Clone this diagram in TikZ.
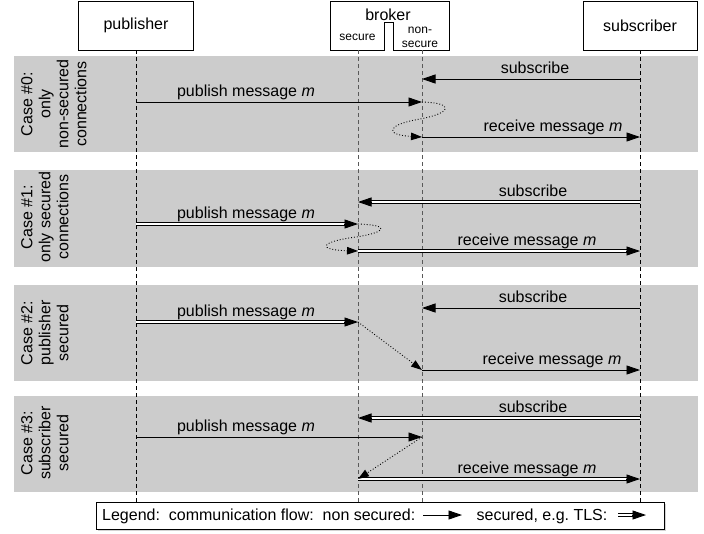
\documentclass[tikz,border=0pt]{standalone}
\usepackage{fontspec}
\setmainfont{Liberation Sans}
\usetikzlibrary{arrows.meta,shadows,calc}
\newcommand\secmsg[2]{%
  \draw[sline] (#1) -- (#2);
  \draw[msg] ($(#2)!14pt!(#1)$) -- (#2);}
\begin{document}
\begin{tikzpicture}[x=1pt,y=-1pt,
  band/.style={fill=black!20, draw=none},
  actor/.style={draw, line width=0.8pt, minimum width=115pt, minimum height=48.5pt, font=\fontsize{16}{18}\selectfont, inner sep=0},
  life/.style={dash pattern=on 4pt off 3pt, line width=0.7pt},
  blife/.style={life, draw=black!65},
  msg/.style={line width=0.9pt, -{Triangle[length=13.5pt,width=9pt]}},
  sline/.style={line width=0.8pt, double, double distance=2pt, shorten >=12.5pt},
  flow/.style={dotted, line width=0.9pt, -{Triangle[length=11pt,width=7.5pt]}},
  lbl/.style={font=\fontsize{16}{18}\selectfont, anchor=base, inner sep=0},
  small/.style={font=\fontsize{12}{14}\selectfont, anchor=base, inner sep=0},
  case/.style={font=\fontsize{16}{18}\selectfont, rotate=90, anchor=north, align=center, inner sep=0},
]
\useasboundingbox (0,0) rectangle (704,533);

% bands
\fill[band] (14,56) rectangle (698,152);
\fill[band] (14,170) rectangle (698,267);
\fill[band] (14,285) rectangle (698,381);
\fill[band] (14,396) rectangle (698,492);

% case labels
\node[case] (case0) at (21,104) {Case \#0:\\only\\non-secured\\connections};
\node[case] (case1) at (21,217) {Case \#1:\\only secured\\connections};
\node[case] (case2) at (21,333) {Case \#2:\\publisher\\secured};
\node[case] (case3) at (21,443) {Case \#3:\\subscriber\\secured};

% actors
\node[actor] (pub) at (136,25.75) {publisher};
\node[actor, minimum width=114pt] (sub) at (640,25.75) {subscriber};
\draw[line width=0.8pt] (330,1.5) -- (449,1.5) -- (449,50) -- (393,50) -- (393,22) -- (384,22) -- (384,50) -- (330,50) -- cycle;
\node[lbl] (brk) at (388,20) {broker};
\node[small] (bsec) at (357.5,40) {secure};
\node[small] (bnon1) at (420,33) {non-};
\node[small] (bnon2) at (420,47) {secure};
\coordinate (bs) at (358,50);
\coordinate (bn) at (422,50);

% lifelines
\coordinate (pubE) at (136,502);
\coordinate (subE) at (640,502);
\coordinate (bsE) at (358,502);
\coordinate (bnE) at (422,502);
\draw[life] (pub.south) -- (pubE);
\draw[life] (sub.south) -- (subE);
\draw[blife] (bs) -- (bsE);
\draw[blife] (bn) -- (bnE);

% ---- case 0
\coordinate (a0s1) at (640,79);  \coordinate (a0s2) at (422,79);
\coordinate (a0p1) at (136,102); \coordinate (a0p2) at (422,102);
\coordinate (a0r1) at (422,137); \coordinate (a0r2) at (640,137);
\draw[msg] (a0s1) -- (a0s2);
\draw[msg] (a0p1) -- (a0p2);
\draw[msg] (a0r1) -- (a0r2);
\draw[flow] (a0p2) .. controls (455,103) and (452,113) .. (420,119) .. controls (385,125) and (385,135) .. (a0r1);
\node[lbl] (l0s) at (535,73) {subscribe};
\node[lbl] (l0p) at (246,96) {publish message \textit{m}};
\node[lbl] (l0r) at (553,131) {receive message \textit{m}};

% ---- case 1
\coordinate (a1s1) at (640,202); \coordinate (a1s2) at (358,202);
\coordinate (a1p1) at (136,224); \coordinate (a1p2) at (358,224);
\coordinate (a1r1) at (358,251); \coordinate (a1r2) at (640,251);
\secmsg{a1s1}{a1s2}
\secmsg{a1p1}{a1p2}
\secmsg{a1r1}{a1r2}
\draw[flow] (a1p2) .. controls (390,225) and (388,232) .. (356,237) .. controls (318,242) and (318,250) .. (a1r1);
\node[lbl] (l1s) at (533,196) {subscribe};
\node[lbl] (l1p) at (246,218) {publish message \textit{m}};
\node[lbl] (l1r) at (527,245) {receive message \textit{m}};

% ---- case 2
\coordinate (a2s1) at (640,308); \coordinate (a2s2) at (422,308);
\coordinate (a2p1) at (136,322); \coordinate (a2p2) at (358,322);
\coordinate (a2r1) at (422,370); \coordinate (a2r2) at (640,370);
\draw[msg] (a2s1) -- (a2s2);
\secmsg{a2p1}{a2p2}
\draw[msg] (a2r1) -- (a2r2);
\draw[flow] (a2p2) -- (a2r1);
\node[lbl] (l2s) at (533,302) {subscribe};
\node[lbl] (l2p) at (246,316) {publish message \textit{m}};
\node[lbl] (l2r) at (552,364) {receive message \textit{m}};

% ---- case 3
\coordinate (a3s1) at (640,418); \coordinate (a3s2) at (358,418);
\coordinate (a3p1) at (136,437); \coordinate (a3p2) at (422,437);
\coordinate (a3r1) at (358,479); \coordinate (a3r2) at (640,479);
\secmsg{a3s1}{a3s2}
\draw[msg] (a3p1) -- (a3p2);
\secmsg{a3r1}{a3r2}
\draw[flow] (a3p2) -- (a3r1);
\node[lbl] (l3s) at (533,412) {subscribe};
\node[lbl] (l3p) at (246,431) {publish message \textit{m}};
\node[lbl] (l3r) at (527,473) {receive message \textit{m}};

% ---- legend
\node[draw, line width=0.7pt, fill=white, drop shadow={shadow xshift=1.5pt, shadow yshift=-1.5pt, opacity=0.35},
      minimum width=568pt, minimum height=27pt, inner sep=0] (legend) at (380,515.5) {};
\node[lbl, anchor=base west] (leg1) at (102,520) {Legend:\ \ communication flow:\ \ non secured:};
\coordinate (lg1a) at (423,515); \coordinate (lg1b) at (462,515);
\draw[msg] (lg1a) -- (lg1b);
\node[lbl] (leg2) at (542,520) {secured, e.g.\ TLS:};
\coordinate (lg2a) at (618,515); \coordinate (lg2b) at (646,515);
\secmsg{lg2a}{lg2b}
\end{tikzpicture}
\end{document}
